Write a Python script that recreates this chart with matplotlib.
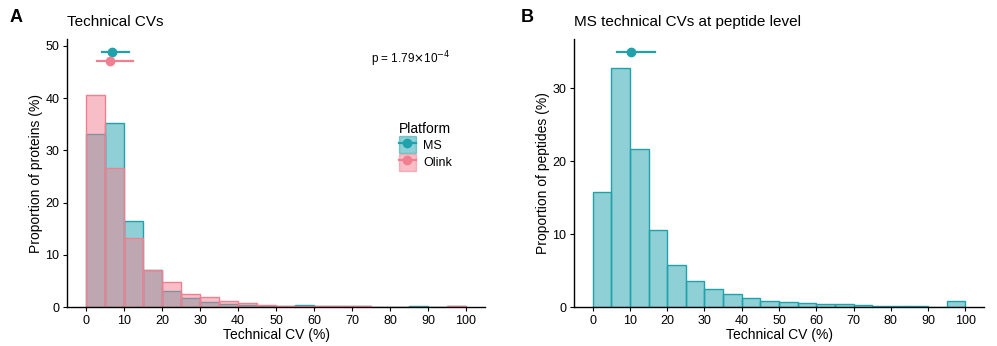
import numpy as np
import matplotlib.pyplot as plt
from matplotlib.lines import Line2D
from matplotlib.patches import Patch

plt.rcParams['font.family'] = ['Liberation Sans', 'DejaVu Sans']

# bins of 5% technical CV, 0-100
bin_edges = np.arange(0, 105, 5)

# panel A: proportion of proteins (%) per bin
ms_prot = [33.2, 35.3, 16.5, 7.1, 3.1, 1.7, 1.0, 0.6, 0.4, 0.2,
           0.15, 0.3, 0.25, 0.1, 0.12, 0.08, 0.08, 0.25, 0.05, 0.2]
olink_prot = [40.5, 26.7, 13.2, 7.0, 4.7, 2.4, 1.9, 1.15, 0.77, 0.4,
              0.2, 0.1, 0.1, 0.12, 0.1, 0.08, 0.06, 0.05, 0.05, 0.15]

# median CV with range shown above the bars
ms_point = 6.8
ms_range = (4.2, 11.4)
olink_point = 6.3
olink_range = (3.0, 12.3)

# panel B: proportion of peptides (%) per bin
ms_pep = [15.75, 32.8, 21.7, 10.6, 5.7, 3.56, 2.5, 1.73, 1.23, 0.82,
          0.7, 0.57, 0.48, 0.4, 0.3, 0.15, 0.12, 0.1, 0.05, 0.8]
pep_point = 10.2
pep_range = (6.6, 16.7)

p_label = r'p = 1.79$\times$10$^{-4}$'

teal = '#1FA2AC'
pink = '#F07F90'

fig = plt.figure(figsize=(9.97, 3.46), dpi=100)
axA = fig.add_axes([0.0672, 0.1127, 0.4193, 0.7745])
axB = fig.add_axes([0.5757, 0.1127, 0.4113, 0.7745])


def style_axis(ax, ymax, yticks):
    ax.set_xlim(-5, 105)
    ax.set_ylim(0, ymax)
    ax.set_xticks(range(0, 101, 10))
    ax.set_yticks(yticks)
    for s in ['top', 'right']:
        ax.spines[s].set_visible(False)
    for s in ['left', 'bottom']:
        ax.spines[s].set_linewidth(1.0)
    ax.tick_params(labelsize=9, length=3, width=0.8, colors='black', pad=2.5)
    ax.set_xlabel('Technical CV (%)', fontsize=10, labelpad=1)


# panel A
widths = np.diff(bin_edges)
axA.bar(bin_edges[:-1], ms_prot, width=widths, align='edge',
        facecolor=teal, alpha=0.5, edgecolor='none')
axA.bar(bin_edges[:-1], ms_prot, width=widths, align='edge',
        facecolor='none', edgecolor=teal, linewidth=1.0)
axA.bar(bin_edges[:-1], olink_prot, width=widths, align='edge',
        facecolor=pink, alpha=0.5, edgecolor='none')
axA.bar(bin_edges[:-1], olink_prot, width=widths, align='edge',
        facecolor='none', edgecolor=pink, linewidth=1.0)

axA.plot(ms_range, [48.9, 48.9], color=teal, lw=1.6)
axA.plot([ms_point], [48.9], 'o', color=teal, ms=6)
axA.plot(olink_range, [47.0, 47.0], color=pink, lw=1.6)
axA.plot([olink_point], [47.0], 'o', color=pink, ms=6)

style_axis(axA, 51.3, range(0, 51, 10))
axA.set_ylabel('Proportion of proteins (%)', fontsize=10, labelpad=2)
axA.text(96, 47.4, p_label, fontsize=8.5, ha='right', va='center')

handles = [
    (Patch(facecolor=teal, alpha=0.5, edgecolor=teal),
     Line2D([], [], color=teal, marker='o', ms=6, lw=1.6)),
    (Patch(facecolor=pink, alpha=0.5, edgecolor=pink),
     Line2D([], [], color=pink, marker='o', ms=6, lw=1.6)),
]
leg = axA.legend(handles, ['MS', 'Olink'], title='Platform',
                 loc='upper left', bbox_to_anchor=(0.78, 0.715),
                 frameon=False, fontsize=9, title_fontsize=10,
                 handlelength=1.3, handleheight=1.7, handletextpad=0.6,
                 labelspacing=0.05, alignment='left', borderpad=0)

# panel B
axB.bar(bin_edges[:-1], ms_pep, width=widths, align='edge',
        facecolor=teal, alpha=0.5, edgecolor='none')
axB.bar(bin_edges[:-1], ms_pep, width=widths, align='edge',
        facecolor='none', edgecolor=teal, linewidth=1.0)
axB.plot(pep_range, [35.0, 35.0], color=teal, lw=1.6)
axB.plot([pep_point], [35.0], 'o', color=teal, ms=6)

style_axis(axB, 36.75, range(0, 31, 10))
axB.set_ylabel('Proportion of peptides (%)', fontsize=10, labelpad=2)

# titles and panel letters
fig.text(0.0672, 0.935, 'Technical CVs', fontsize=11, va='center')
fig.text(0.5757, 0.935, 'MS technical CVs at peptide level', fontsize=11, va='center')
fig.text(0.010, 0.948, 'A', fontsize=13, fontweight='bold', va='center')
fig.text(0.522, 0.948, 'B', fontsize=13, fontweight='bold', va='center')

fig.savefig('out.png', dpi=100)
